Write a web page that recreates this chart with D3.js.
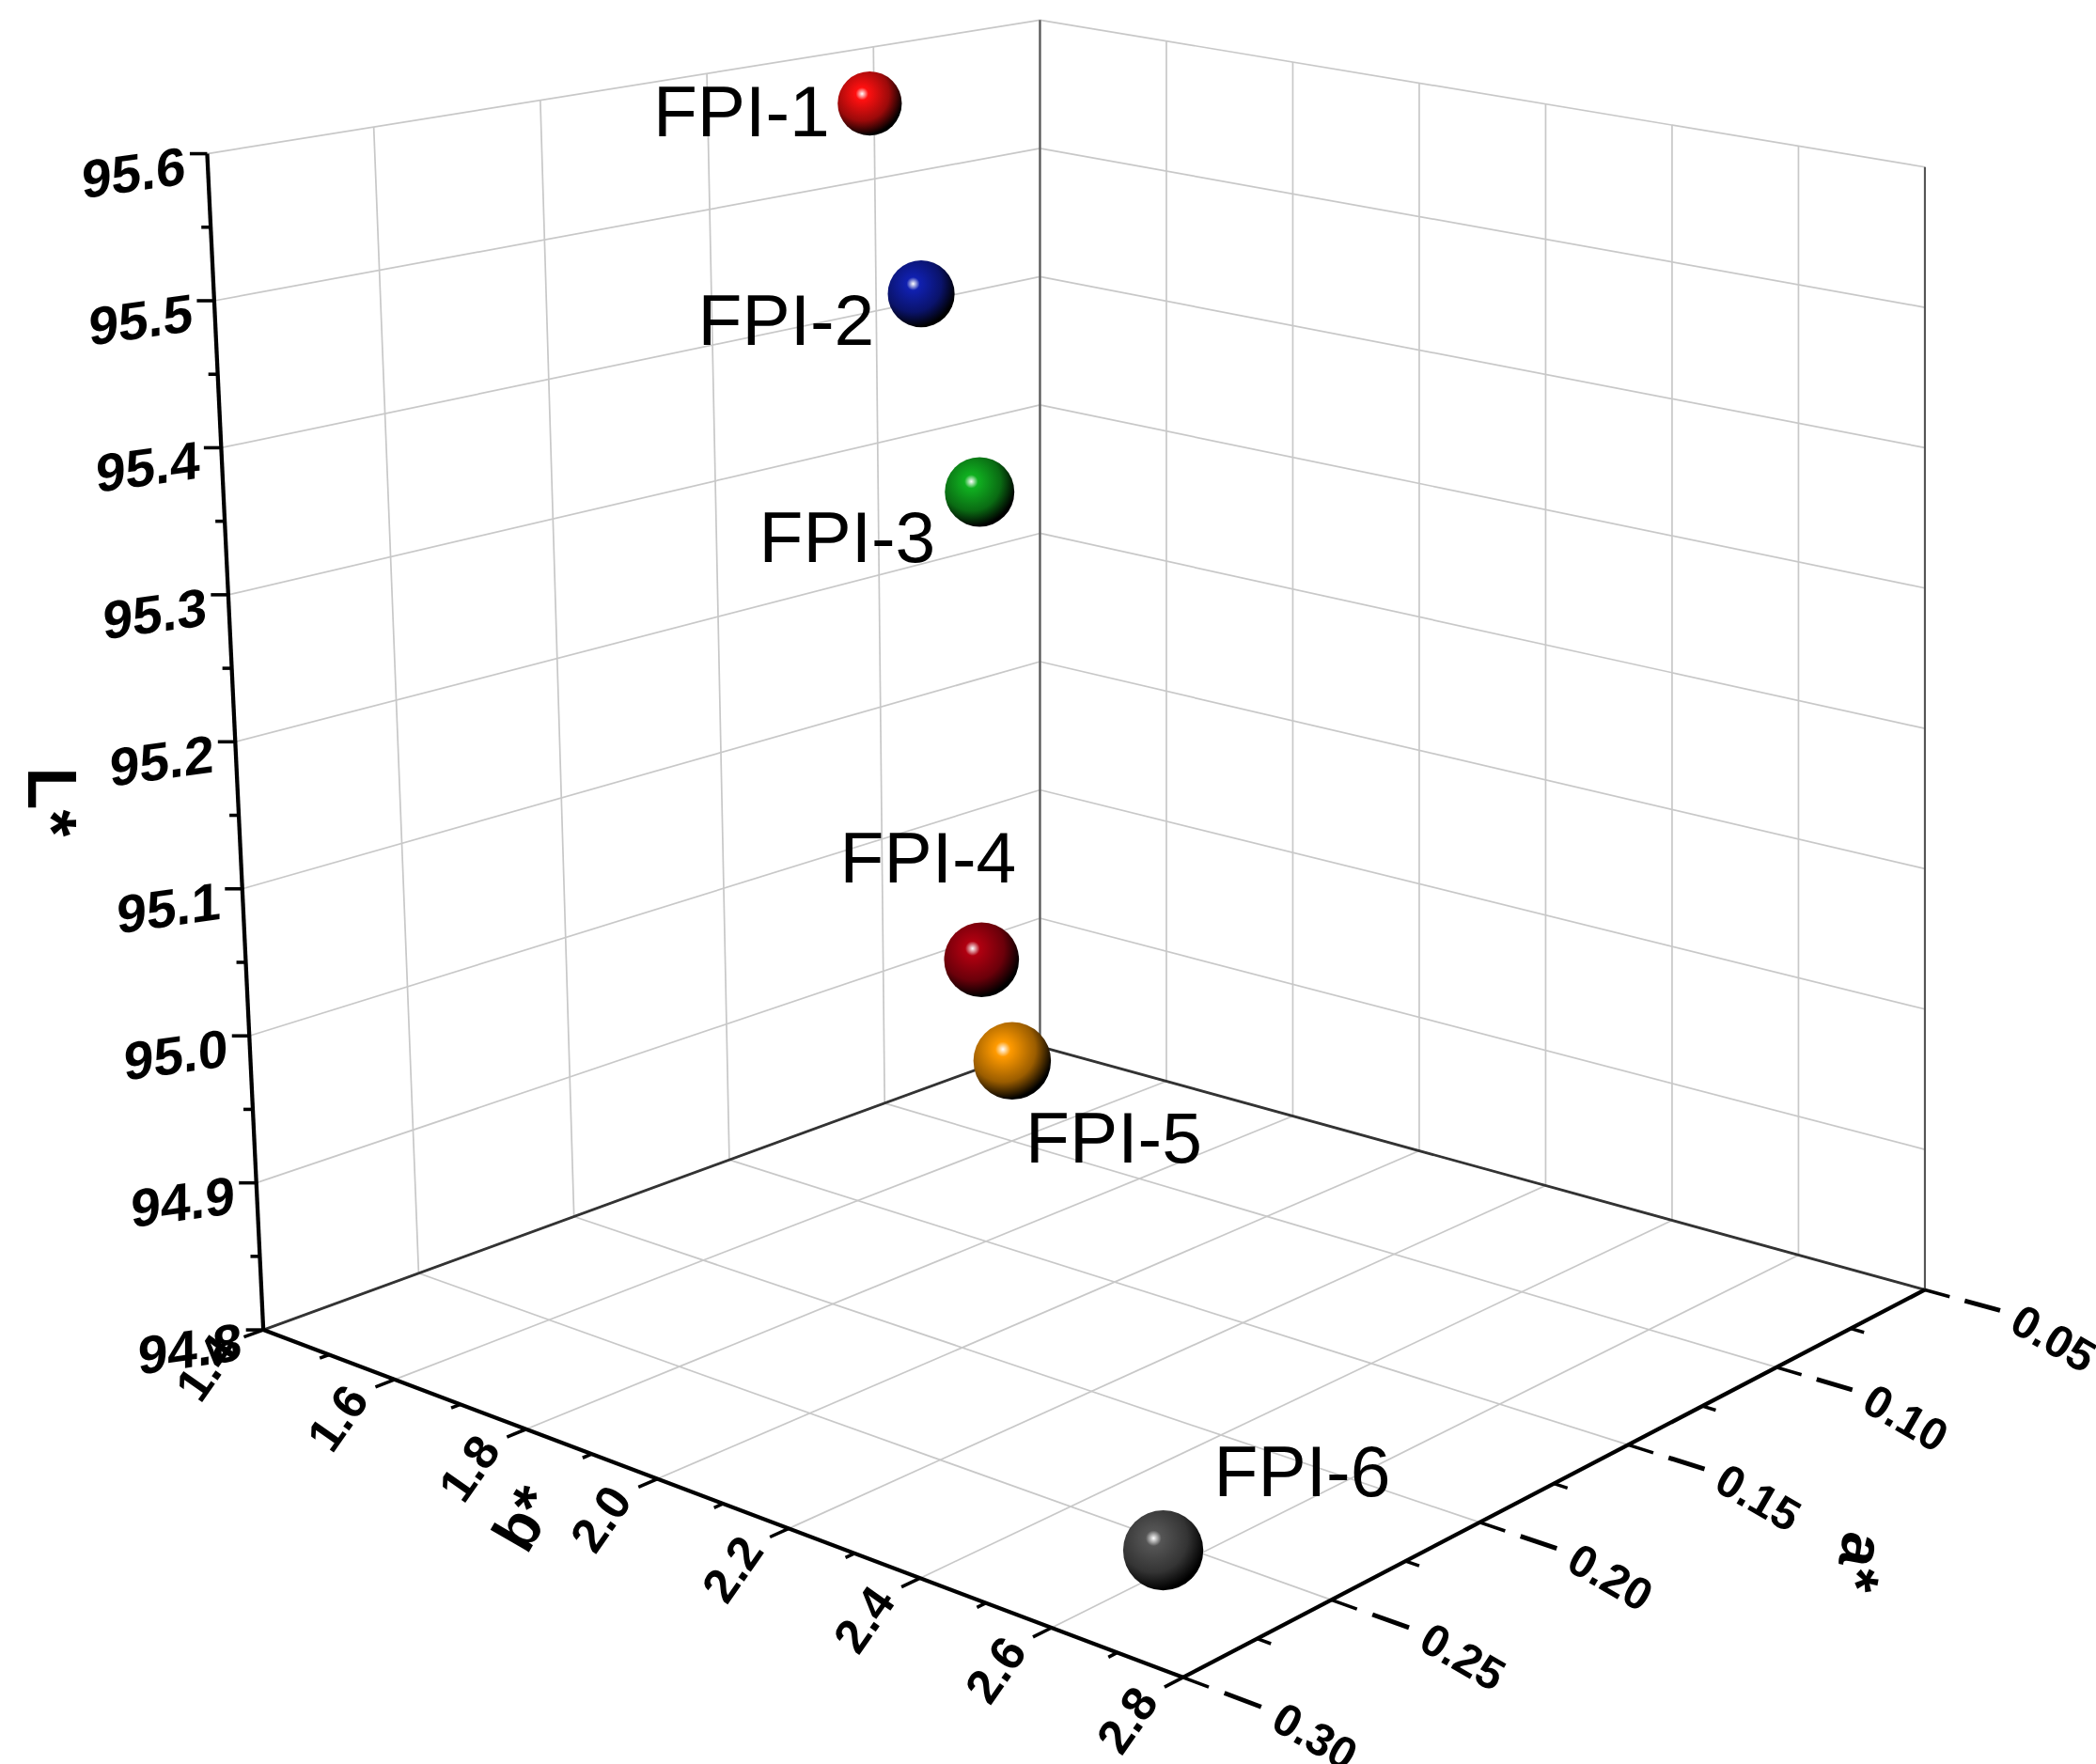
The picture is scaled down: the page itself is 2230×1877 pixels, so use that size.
<!DOCTYPE html>
<html><head><meta charset="utf-8">
<script src="https://cdn.jsdelivr.net/npm/d3@7"></script>
<style>body{margin:0;background:#fff}</style></head>
<body><svg id="c" width="2230" height="1877"></svg>
<script>
const names=["FPI-1","FPI-2","FPI-3","FPI-4","FPI-5","FPI-6"];
const bVals=[1.47,1.47,1.47,1.456,1.442,2.70];
const aVals=[0.115,0.10,0.0825,0.08,0.0675,0.285];
const LVals=[95.57,95.42,95.26,94.90,94.81,94.85];
const colors=["#ff1010","#1020b0","#10b020","#b00010","#ff9a00","#555555"];
const LTicks=[94.8,94.9,95.0,95.1,95.2,95.3,95.4,95.5,95.6];
const bTicks=[1.4,1.6,1.8,2.0,2.2,2.4,2.6,2.8];
const aTicks=[0.05,0.10,0.15,0.20,0.25,0.30];

const S=2230/1568;
const svg=d3.select("#c");
const g=svg.append("g").attr("transform",`scale(${S})`);
const uS=d3.scaleLinear().domain([1.4,2.8]).range([0,1]);
const vS=d3.scaleLinear().domain([0.05,0.30]).range([0,1]);
const tS=d3.scaleLinear().domain([94.8,95.6]).range([0,1]);
const F={c00:[778,783],c10:[1440,965],c01:[197,995],c11:[885,1255]};
const T={c00:[778,15],c10:[1440,125],c01:[155,115],c11:[905,290]};
function bil(C,u,v){return [0,1].map(i=>C.c00[i]*(1-u)*(1-v)+C.c10[i]*u*(1-v)+C.c01[i]*(1-u)*v+C.c11[i]*u*v);}
function Q(u,v,t){const f=bil(F,u,v),tp=bil(T,u,v);return [f[0]+(tp[0]-f[0])*t,f[1]+(tp[1]-f[1])*t];}
function P(b,a,L){return Q(uS(b),vS(a),tS(L));}
function line(p,q,col,w){g.append("line").attr("x1",p[0]).attr("y1",p[1]).attr("x2",q[0]).attr("y2",q[1]).attr("stroke",col).attr("stroke-width",w);}
const gc="#c8c8c8";
LTicks.forEach(L=>{line(P(1.4,0.30,L),P(1.4,0.05,L),gc,1.2);line(P(1.4,0.05,L),P(2.8,0.05,L),gc,1.2);});
aTicks.forEach(a=>{line(P(1.4,a,94.8),P(1.4,a,95.6),gc,1.2);line(P(1.4,a,94.8),P(2.8,a,94.8),gc,1.2);});
bTicks.forEach(b=>{line(P(b,0.05,94.8),P(b,0.05,95.6),gc,1.2);line(P(b,0.05,94.8),P(b,0.30,94.8),gc,1.2);});
line(P(1.4,0.05,94.8),P(1.4,0.05,95.6),"#555",1.5);
line(P(2.8,0.05,94.8),P(2.8,0.05,95.6),"#555",1.5);
line(P(1.4,0.30,94.8),P(1.4,0.05,94.8),"#333",2);
line(P(1.4,0.05,94.8),P(2.8,0.05,94.8),"#333",2);
line(P(1.4,0.30,94.8),P(1.4,0.30,95.6),"#000",3);
line(P(1.4,0.30,94.8),P(2.8,0.30,94.8),"#000",3);
line(P(2.8,0.30,94.8),P(2.8,0.05,94.8),"#000",3);
const font="'Liberation Sans',Arial,sans-serif";
function txt(x,y,s,rot,anchor,size,bold){g.append("text").attr("transform",`translate(${x},${y}) rotate(${rot})`).attr("text-anchor",anchor).attr("dominant-baseline","middle").attr("font-family",font).attr("font-size",size).attr("font-weight",bold?"bold":"normal").text(s);}
// L axis
d3.range(0,17).forEach(i=>{const L=94.8+i*0.05;const p=P(1.4,0.30,L);line(p,[p[0]-(i%2?7:13),p[1]],"#000",2.5);});
LTicks.forEach(L=>{const p=P(1.4,0.30,L);g.append("text").attr("transform",`translate(${p[0]-16},${p[1]+12}) skewY(-8)`).attr("text-anchor","end").attr("dominant-baseline","middle").attr("font-family",font).attr("font-size",40).attr("font-weight","bold").text(L.toFixed(1));});
// b axis
d3.range(0,15).forEach(i=>{const u=i/14;line(Q(u,1,0),Q(u,i%2?1.012:1.025,0),"#000",2.5);});
bTicks.forEach(b=>{const p=Q(uS(b),1.045,0);txt(p[0],p[1],b.toFixed(1),-55,"end",36,true);});
// a axis
d3.range(0,11).forEach(i=>{const v=i/10;line(Q(1,v,0),Q(i%2?1.015:1.028,v,0),"#000",2.5);});
aTicks.forEach(a=>{const v=vS(a);line(Q(1.045,v,0),Q(1.085,v,0),"#000",3.5);const r=Q(1.1,v,0);txt(r[0],r[1]+4,a.toFixed(2),30,"start",34,true);});
// titles
txt(35,600,"L*",90,"middle",52,true);
txt(395,1138,"b*",-60,"middle",46,true);
txt(1388,1168,"a*",100,"middle",46,true);
// spheres
const defs=svg.append("defs");
colors.forEach((c,i)=>{const gr=defs.append("radialGradient").attr("id","s"+i).attr("cx","38%").attr("cy","35%").attr("r","65%");
gr.append("stop").attr("offset","0%").attr("stop-color","#fff");
gr.append("stop").attr("offset","15%").attr("stop-color",c);
gr.append("stop").attr("offset","65%").attr("stop-color",d3.color(c).darker(1.4));
gr.append("stop").attr("offset","100%").attr("stop-color","#000");});
const radii=[24,25,26,28,29,30];
const labOff=[[-30,10,"end"],[-35,24,"end"],[-33,38,"end"],[-40,-72,"middle"],[10,62,"start"],[38,-55,"start"]];
names.forEach((n,i)=>{const p=P(bVals[i],aVals[i],LVals[i]);
g.append("circle").attr("cx",p[0]).attr("cy",p[1]).attr("r",radii[i]).attr("fill",`url(#s${i})`);
const o=labOff[i];txt(p[0]+o[0],p[1]+o[1],n,0,o[2],54,false);});
</script></body></html>
